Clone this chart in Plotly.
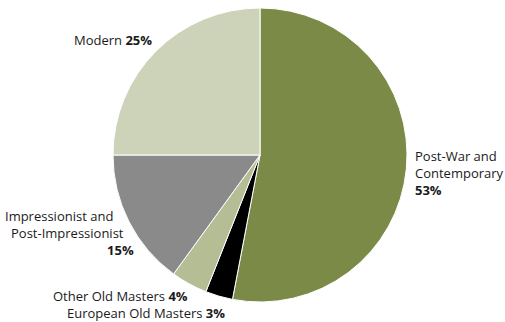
import plotly.graph_objects as go

categories = ["Post-War and Contemporary", "European Old Masters", "Other Old Masters",
              "Impressionist and Post-Impressionist", "Modern"]
values = [53, 3, 4, 15, 25]
colors = ["#7b8b47", "#000000", "#b4bd94", "#8a8a8a", "#cdd3b8"]

W, H = 505, 322
cx, cy, r = 260, 155, 147

fig = go.Figure(go.Pie(
    labels=categories, values=values, sort=False, direction="clockwise", rotation=0,
    marker=dict(colors=colors, line=dict(color="white", width=1)),
    textinfo="none", hoverinfo="label+percent", showlegend=False,
    domain=dict(x=[(cx - r) / W, (cx + r) / W], y=[1 - (cy + r) / H, 1 - (cy - r) / H]),
))

font = dict(family="Open Sans, Noto Sans, sans-serif", size=13, color="#1a1a1a")

def ann(text, x, y, anchor):
    fig.add_annotation(text=text, x=x / W, y=1 - y / H, xref="paper", yref="paper",
                       xanchor=anchor, yanchor="middle", showarrow=False, font=font,
                       align=anchor)

ann(f"Modern <b>{values[4]}%</b>", 154, 40, "right")
ann(f"Post-War and<br>Contemporary<br><b>{values[0]}%</b>", 413, 173, "left")
ann("Impressionist and" + "&nbsp;" * 6 + "<br>Post-Impressionist" + "&nbsp;" * 3
    + f"<br><b>{values[3]}%</b>", 136, 233, "right")
ann(f"Other Old Masters <b>{values[2]}%</b>", 190, 296, "right")
ann(f"European Old Masters <b>{values[1]}%</b>", 227, 313, "right")

fig.update_layout(width=W, height=H, margin=dict(l=0, r=0, t=0, b=0),
                  paper_bgcolor="white", plot_bgcolor="white")
fig.write_html("out.html", config={"displayModeBar": False},
               post_script="document.body.style.margin='0';document.body.style.overflow='hidden';")
